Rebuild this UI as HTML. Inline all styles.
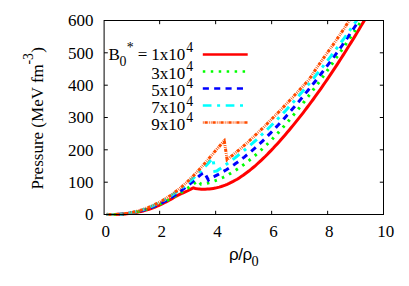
<!DOCTYPE html>
<html><head><meta charset="utf-8"><title>Pressure</title>
<style>
html,body{margin:0;padding:0;background:#fff;}
body{width:409px;height:286px;overflow:hidden;font-family:"Liberation Serif",serif;}
.t{font-family:"Liberation Serif",serif;font-size:17px;fill:#000;}
</style></head><body>
<svg width="409" height="286" viewBox="0 0 409 286" style="display:block">
<rect width="409" height="286" fill="#fff"/>
<defs><clipPath id="c"><rect x="104.1" y="20.5" width="279.4" height="195.5"/></clipPath></defs>
<g clip-path="url(#c)" fill="none" stroke-width="3" stroke-linejoin="miter" stroke-miterlimit="10">
<path d="M106.8,214.5 L108.8,214.5 L110.8,214.5 L112.8,214.5 L114.8,214.5 L116.9,214.5 L118.9,214.4 L120.9,214.3 L122.9,214.2 L124.9,214.0 L126.9,213.8 L128.9,213.6 L130.9,213.4 L133.0,213.1 L135.0,212.7 L137.0,212.3 L139.0,211.9 L141.0,211.5 L143.0,211.0 L145.0,210.4 L147.0,209.8 L149.0,209.2 L151.1,208.5 L153.1,207.8 L155.1,207.0 L157.1,206.2 L159.1,205.3 L161.1,204.4 L163.1,203.4 L165.1,202.3 L167.1,201.3 L169.2,200.2 L171.2,199.1 L173.2,197.9 L175.2,196.8 L177.2,195.7 L179.2,194.7 L181.2,193.7 L183.2,192.8 L185.3,191.9 L187.3,191.0 L189.3,190.0 L191.3,188.9 L193.3,187.9 L195.3,188.5 L197.3,188.8 L199.3,189.0 L201.3,189.2 L203.3,189.2 L205.3,189.2 L207.3,189.1 L209.3,189.0 L211.3,188.7 L213.3,188.4 L215.3,188.1 L217.3,187.6 L219.3,187.1 L221.3,186.5 L223.2,185.8 L225.2,185.1 L227.2,184.3 L229.2,183.4 L231.2,182.4 L233.2,181.4 L235.2,180.3 L237.2,179.2 L239.2,177.9 L241.2,176.6 L243.2,175.3 L245.2,173.8 L247.2,172.3 L249.2,170.8 L251.2,169.2 L253.2,167.5 L255.2,165.8 L257.2,164.0 L259.2,162.2 L261.2,160.3 L263.2,158.4 L265.2,156.5 L267.2,154.5 L269.2,152.4 L271.2,150.4 L273.2,148.3 L275.2,146.1 L277.2,143.9 L279.2,141.7 L281.1,139.5 L283.1,137.2 L285.1,134.9 L287.1,132.6 L289.1,130.2 L291.1,127.8 L293.1,125.4 L295.1,122.9 L297.1,120.4 L299.1,117.9 L301.1,115.4 L303.1,112.8 L305.1,110.2 L307.1,107.5 L309.1,104.9 L311.1,102.2 L313.1,99.5 L315.1,96.7 L317.1,93.9 L319.1,91.1 L321.1,88.3 L323.1,85.4 L325.1,82.5 L327.1,79.6 L329.1,76.7 L331.1,73.7 L333.1,70.7 L335.1,67.7 L337.1,64.6 L339.0,61.6 L341.0,58.5 L343.0,55.4 L345.0,52.2 L347.0,49.0 L349.0,45.8 L351.0,42.6 L353.0,39.4 L355.0,36.1 L357.0,32.8 L359.0,29.5 L361.0,26.1 L363.0,22.8 L365.0,19.4 L367.0,16.0" stroke="#ff0000" stroke-dashoffset="0"/>
<path d="M106.8,214.4 L108.8,214.5 L110.8,214.6 L112.7,214.6 L114.7,214.6 L116.7,214.6 L118.7,214.5 L120.6,214.4 L122.6,214.2 L124.6,214.0 L126.6,213.8 L128.6,213.6 L130.5,213.3 L132.5,212.9 L134.5,212.5 L136.5,212.1 L138.5,211.6 L140.4,211.2 L142.4,210.6 L144.4,210.0 L146.4,209.4 L148.3,208.8 L150.3,208.1 L152.3,207.3 L154.3,206.5 L156.3,205.7 L158.2,204.9 L160.2,204.0 L162.2,203.0 L164.2,202.0 L166.1,201.0 L168.1,200.0 L170.1,198.9 L172.1,197.8 L174.1,196.7 L176.0,195.5 L178.0,194.4 L180.0,193.2 L182.0,192.0 L184.0,190.7 L185.9,189.4 L187.9,188.1 L189.9,186.7 L191.9,185.3 L193.8,183.7 L195.8,182.2 L197.8,180.6 L201.0,184.2 L203.0,184.1 L205.0,183.7 L207.0,183.3 L209.0,182.7 L210.9,182.2 L212.9,181.5 L214.9,180.8 L216.9,180.1 L218.9,179.2 L220.9,178.4 L222.9,177.5 L224.9,176.5 L226.8,175.4 L228.8,174.4 L230.8,173.2 L232.8,172.0 L234.8,170.8 L236.8,169.5 L238.8,168.2 L240.8,166.8 L242.7,165.4 L244.7,163.9 L246.7,162.4 L248.7,160.8 L250.7,159.2 L252.7,157.5 L254.7,155.8 L256.7,154.1 L258.6,152.3 L260.6,150.5 L262.6,148.6 L264.6,146.7 L266.6,144.8 L268.6,142.8 L270.6,140.8 L272.6,138.7 L274.5,136.6 L276.5,134.5 L278.5,132.4 L280.5,130.2 L282.5,127.9 L284.5,125.7 L286.5,123.4 L288.5,121.1 L290.5,118.7 L292.4,116.3 L294.4,113.9 L296.4,111.5 L298.4,109.0 L300.4,106.5 L302.4,104.0 L304.4,101.5 L306.4,98.9 L308.3,96.3 L310.3,93.7 L312.3,91.1 L314.3,88.4 L316.3,85.7 L318.3,83.1 L320.3,80.3 L322.3,77.6 L324.2,74.8 L326.2,72.1 L328.2,69.3 L330.2,66.5 L332.2,63.7 L334.2,60.8 L336.2,58.0 L338.2,55.1 L340.1,52.3 L342.1,49.4 L344.1,46.5 L346.1,43.6 L348.1,40.7 L350.1,37.8 L352.1,34.9 L354.1,31.9 L356.0,29.0 L358.0,26.0 L360.0,23.1 L362.0,20.1 L364.0,17.2" stroke="#00ff00" stroke-dasharray="2.5 5.46" stroke-dashoffset="1.25"/>
<path d="M106.8,214.5 L108.8,214.5 L110.8,214.5 L112.8,214.5 L114.8,214.5 L116.7,214.4 L118.7,214.3 L120.7,214.2 L122.7,214.0 L124.7,213.8 L126.7,213.6 L128.7,213.3 L130.7,213.0 L132.6,212.7 L134.6,212.3 L136.6,211.8 L138.6,211.4 L140.6,210.9 L142.6,210.3 L144.6,209.7 L146.6,209.1 L148.5,208.4 L150.5,207.7 L152.5,207.0 L154.5,206.2 L156.5,205.3 L158.5,204.4 L160.5,203.5 L162.5,202.5 L164.4,201.4 L166.4,200.4 L168.4,199.2 L170.4,198.0 L172.4,196.8 L174.4,195.5 L176.4,194.2 L178.4,192.8 L180.3,191.4 L182.3,189.9 L184.3,188.4 L186.3,186.8 L188.3,185.3 L190.3,183.6 L192.3,182.0 L194.3,180.3 L196.2,178.6 L198.2,176.8 L200.2,175.2 L202.2,173.5 L204.2,172.3 L208.4,180.0 L210.4,178.1 L212.4,177.2 L214.4,176.3 L216.4,175.3 L218.4,174.3 L220.4,173.2 L222.4,172.1 L224.4,170.9 L226.4,169.7 L228.3,168.5 L230.3,167.2 L232.3,165.8 L234.3,164.5 L236.3,163.1 L238.3,161.6 L240.3,160.1 L242.3,158.6 L244.3,157.1 L246.3,155.4 L248.3,153.8 L250.3,152.1 L252.3,150.4 L254.3,148.7 L256.3,146.9 L258.3,145.0 L260.3,143.2 L262.3,141.3 L264.3,139.4 L266.2,137.4 L268.2,135.4 L270.2,133.4 L272.2,131.3 L274.2,129.2 L276.2,127.1 L278.2,125.0 L280.2,122.8 L282.2,120.6 L284.2,118.4 L286.2,116.2 L288.2,113.9 L290.2,111.6 L292.2,109.3 L294.2,107.0 L296.2,104.7 L298.2,102.3 L300.2,99.9 L302.2,97.5 L304.2,95.1 L306.1,92.6 L308.1,90.2 L310.1,87.7 L312.1,85.2 L314.1,82.7 L316.1,80.2 L318.1,77.6 L320.1,75.1 L322.1,72.5 L324.1,69.9 L326.1,67.3 L328.1,64.6 L330.1,61.9 L332.1,59.3 L334.1,56.5 L336.1,53.8 L338.1,51.1 L340.1,48.3 L342.1,45.5 L344.0,42.6 L346.0,39.8 L348.0,36.9 L350.0,34.0 L352.0,31.0 L354.0,28.0 L356.0,25.0 L358.0,22.0 L360.0,18.9 L362.0,15.9" stroke="#0000ff" stroke-dasharray="6.1 5.26" stroke-dashoffset="0.7"/>
<path d="M106.8,214.3 L108.8,214.4 L110.8,214.5 L112.8,214.5 L114.8,214.5 L116.8,214.5 L118.8,214.4 L120.8,214.2 L122.8,214.0 L124.8,213.8 L126.8,213.5 L128.8,213.2 L130.8,212.8 L132.8,212.4 L134.8,212.0 L136.8,211.5 L138.8,210.9 L140.8,210.3 L142.8,209.7 L144.8,209.0 L146.8,208.2 L148.8,207.5 L150.8,206.6 L152.8,205.8 L154.8,204.8 L156.8,203.9 L158.8,202.9 L160.9,201.8 L162.9,200.7 L164.9,199.6 L166.9,198.4 L168.9,197.1 L170.9,195.8 L172.9,194.5 L174.9,193.1 L176.9,191.7 L178.9,190.2 L180.9,188.7 L182.9,187.1 L184.9,185.5 L186.9,183.9 L188.9,182.2 L190.9,180.4 L192.9,178.6 L194.9,176.7 L196.9,174.9 L198.9,172.9 L200.9,170.9 L202.9,168.9 L204.9,166.8 L206.9,164.7 L208.9,162.5 L210.9,160.3 L212.9,158.4 L214.8,171.3 L216.8,171.0 L218.8,169.6 L220.8,168.3 L222.8,166.9 L224.7,165.5 L226.7,164.1 L228.7,162.6 L230.7,161.1 L232.7,159.6 L234.7,158.1 L236.7,156.5 L238.7,154.9 L240.7,153.3 L242.6,151.7 L244.6,150.0 L246.6,148.4 L248.6,146.6 L250.6,144.9 L252.6,143.2 L254.6,141.4 L256.6,139.6 L258.6,137.7 L260.5,135.9 L262.5,134.0 L264.5,132.1 L266.5,130.2 L268.5,128.2 L270.5,126.3 L272.5,124.3 L274.5,122.3 L276.5,120.2 L278.4,118.2 L280.4,116.1 L282.4,114.0 L284.4,111.9 L286.4,109.7 L288.4,107.5 L290.4,105.3 L292.4,103.1 L294.4,100.9 L296.4,98.6 L298.3,96.4 L300.3,94.1 L302.3,91.7 L304.3,89.4 L306.3,87.0 L308.3,84.6 L310.3,82.2 L312.3,79.8 L314.3,77.4 L316.2,74.9 L318.2,72.4 L320.2,69.9 L322.2,67.4 L324.2,64.8 L326.2,62.3 L328.2,59.7 L330.2,57.1 L332.2,54.4 L334.1,51.8 L336.1,49.1 L338.1,46.4 L340.1,43.7 L342.1,41.0 L344.1,38.3 L346.1,35.5 L348.1,32.7 L350.1,29.9 L352.0,27.1 L354.0,24.3 L356.0,21.5 L358.0,18.6 L360.0,15.7" stroke="#00ffff" stroke-dasharray="8.7 5.6 3 5.6" stroke-dashoffset="1.4"/>
<path d="M106.8,214.3 L108.8,214.4 L110.8,214.4 L112.8,214.4 L114.8,214.4 L116.8,214.3 L118.7,214.2 L120.7,214.1 L122.7,213.9 L124.7,213.7 L126.7,213.4 L128.7,213.1 L130.7,212.7 L132.7,212.3 L134.7,211.8 L136.7,211.3 L138.7,210.8 L140.7,210.2 L142.6,209.6 L144.6,208.9 L146.6,208.1 L148.6,207.4 L150.6,206.5 L152.6,205.7 L154.6,204.7 L156.6,203.7 L158.6,202.7 L160.6,201.6 L162.6,200.5 L164.6,199.3 L166.5,198.0 L168.5,196.7 L170.5,195.4 L172.5,194.0 L174.5,192.5 L176.5,191.0 L178.5,189.4 L180.5,187.8 L182.5,186.1 L184.5,184.3 L186.5,182.5 L188.5,180.7 L190.4,178.7 L192.4,176.8 L194.4,174.7 L196.4,172.6 L198.4,170.5 L200.4,168.3 L202.4,166.0 L204.4,163.8 L206.4,161.5 L208.4,159.1 L210.4,156.8 L212.4,154.5 L214.3,152.1 L216.3,149.8 L218.3,147.5 L220.3,145.2 L222.3,142.9 L224.3,140.8 L227.1,159.7 L229.1,158.0 L231.1,156.4 L233.1,154.8 L235.1,153.2 L237.1,151.5 L239.1,149.8 L241.1,148.1 L243.1,146.3 L245.1,144.6 L247.1,142.8 L249.1,141.0 L251.1,139.1 L253.1,137.3 L255.1,135.4 L257.1,133.5 L259.1,131.6 L261.1,129.7 L263.1,127.8 L265.1,125.8 L267.1,123.8 L269.0,121.8 L271.0,119.8 L273.0,117.8 L275.0,115.8 L277.0,113.7 L279.0,111.7 L281.0,109.6 L283.0,107.5 L285.0,105.4 L287.0,103.3 L289.0,101.2 L291.0,99.1 L293.0,97.0 L295.0,94.8 L297.0,92.7 L299.0,90.5 L301.0,88.3 L303.0,86.2 L305.0,84.0 L307.0,81.8 L309.0,79.6 L311.0,76.6 L312.9,73.6 L314.9,70.6 L316.8,67.7 L318.8,64.9 L320.7,62.1 L322.7,59.3 L324.6,56.6 L326.6,53.8 L328.5,51.1 L330.5,48.3 L332.5,45.6 L334.4,42.8 L336.4,40.0 L338.3,37.2 L340.3,34.3 L342.2,31.4 L344.2,28.5 L346.1,25.4 L348.1,22.3 L350.0,19.1 L352.0,15.8" stroke="#ff4d00" stroke-dasharray="3.2 1.1 0.8 1.15 0.8 0.9" stroke-dashoffset="6.35"/>
<path d="M223.2,139.8 L225.2,137.7 L225.8,140.6 L224.3,141.2 Z" fill="#ff4d00" stroke="none"/>
</g>
<rect x="104.1" y="20.5" width="279.4" height="194.0" fill="none" stroke="#000" stroke-width="1"/>
<text x="105.8" y="236.8" text-anchor="middle" class="t">0</text>
<path d="M159.65,214.5 v-3.7 M159.65,20.5 v3.7" stroke="#000" stroke-width="1" fill="none"/>
<text x="161.7" y="236.8" text-anchor="middle" class="t">2</text>
<path d="M215.65,214.5 v-3.7 M215.65,20.5 v3.7" stroke="#000" stroke-width="1" fill="none"/>
<text x="217.6" y="236.8" text-anchor="middle" class="t">4</text>
<path d="M271.65,214.5 v-3.7 M271.65,20.5 v3.7" stroke="#000" stroke-width="1" fill="none"/>
<text x="273.4" y="236.8" text-anchor="middle" class="t">6</text>
<path d="M327.65,214.5 v-3.7 M327.65,20.5 v3.7" stroke="#000" stroke-width="1" fill="none"/>
<text x="329.3" y="236.8" text-anchor="middle" class="t">8</text>
<text x="385.7" y="236.8" text-anchor="middle" class="t">10</text>
<text x="93.6" y="220.4" text-anchor="end" class="t">0</text>
<path d="M104.1,182.2 h3.7 M383.5,182.2 h-3.7" stroke="#000" stroke-width="1" fill="none"/>
<text x="93.6" y="188.1" text-anchor="end" class="t">100</text>
<path d="M104.1,149.8 h3.7 M383.5,149.8 h-3.7" stroke="#000" stroke-width="1" fill="none"/>
<text x="93.6" y="155.7" text-anchor="end" class="t">200</text>
<path d="M104.1,117.5 h3.7 M383.5,117.5 h-3.7" stroke="#000" stroke-width="1" fill="none"/>
<text x="93.6" y="123.4" text-anchor="end" class="t">300</text>
<path d="M104.1,85.2 h3.7 M383.5,85.2 h-3.7" stroke="#000" stroke-width="1" fill="none"/>
<text x="93.6" y="91.1" text-anchor="end" class="t">400</text>
<path d="M104.1,52.8 h3.7 M383.5,52.8 h-3.7" stroke="#000" stroke-width="1" fill="none"/>
<text x="93.6" y="58.7" text-anchor="end" class="t">500</text>
<text x="93.6" y="26.4" text-anchor="end" class="t">600</text>
<path d="M202.8,54.5 H247.7" stroke="#ff0000" stroke-width="2.5" fill="none" stroke-dashoffset="0"/>
<text x="185.3" y="59.8" text-anchor="end" class="t">1x10</text>
<text x="186.2" y="51.8" class="t" style="font-size:13.8px">4</text>
<path d="M202.8,71.5 H247.7" stroke="#00ff00" stroke-width="2.5" fill="none" stroke-dasharray="2.5 5.46" stroke-dashoffset="0"/>
<text x="185.3" y="79.0" text-anchor="end" class="t">3x10</text>
<text x="186.2" y="71.4" class="t" style="font-size:13.8px">4</text>
<path d="M202.8,88.4 H247.7" stroke="#0000ff" stroke-width="2.5" fill="none" stroke-dasharray="6.1 5.26" stroke-dashoffset="0"/>
<text x="185.3" y="96.0" text-anchor="end" class="t">5x10</text>
<text x="186.2" y="88.4" class="t" style="font-size:13.8px">4</text>
<path d="M202.8,105.5 H247.7" stroke="#00ffff" stroke-width="2.5" fill="none" stroke-dasharray="8.7 5.6 3 5.6" stroke-dashoffset="0"/>
<text x="185.3" y="113.1" text-anchor="end" class="t">7x10</text>
<text x="186.2" y="105.5" class="t" style="font-size:13.8px">4</text>
<path d="M202.8,122.5 H247.7" stroke="#ff4d00" stroke-width="2.5" fill="none" stroke-dasharray="3.2 1.1 0.8 1.15 0.8 0.9" stroke-dashoffset="6.2"/>
<text x="185.3" y="129.7" text-anchor="end" class="t">9x10</text>
<text x="186.2" y="122.1" class="t" style="font-size:13.8px">4</text>
<text x="108.6" y="59.8" class="t">B</text>
<text x="119.6" y="65.5" class="t" style="font-size:13.8px">0</text>
<text x="126.85" y="52" class="t" style="font-size:13.8px">*</text>
<text x="137.7" y="59.8" class="t">=</text>
<text x="229" y="260.3" class="t" style="font-family:'Liberation Sans',sans-serif;font-size:17px;letter-spacing:-0.45px">ρ/ρ</text>
<text x="251.6" y="265.8" class="t" style="font-size:14.3px">0</text>
<g transform="translate(42.8,189.5) rotate(-90)"><text x="0" y="0" class="t">Pressure (MeV fm</text><text x="125" y="-10.3" class="t" style="font-size:13.8px">-3</text><text x="136.8" y="0" class="t">)</text></g>
</svg>
</body></html>
